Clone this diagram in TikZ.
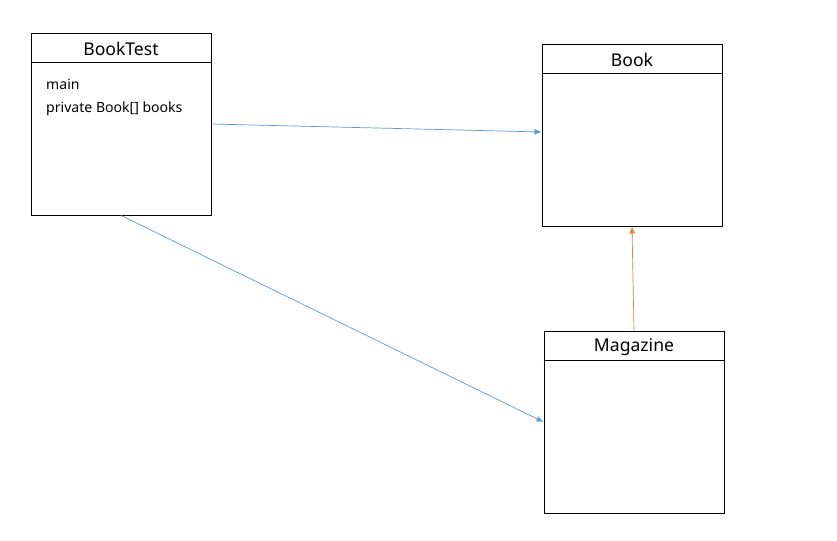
\documentclass[tikz,border=0pt]{standalone}
\usepackage{fontspec}
\setmainfont{Noto Sans}
\usetikzlibrary{arrows.meta}
\definecolor{linkblue}{RGB}{91,155,213}
\definecolor{linkorange}{RGB}{237,125,49}
\tikzset{
  classbox/.style={draw, line width=0.8pt, minimum width=5.4cm, minimum height=5.46cm, inner sep=0pt},
  classname/.style={font=\fontsize{15}{17}\selectfont},
  member/.style={anchor=west, inner sep=0pt, font=\fontsize{12}{14}\selectfont},
  assoc/.style={-{Latex[length=6pt,width=5pt]}, line width=0.6pt}
}
\begin{document}
\begin{tikzpicture}[x=0.03cm, y=-0.03cm]
        \useasboundingbox (0,0) rectangle (837,541);

        % class boxes
        \node[classbox] (booktest) at (121,124) {};
        \node[classbox] (book) at (632,135) {};
        \node[classbox] (magazine) at (634,422) {};

        % header lines
        \draw[line width=0.8pt] ([yshift=-0.9cm]booktest.north west) -- ([yshift=-0.9cm]booktest.north east);
        \draw[line width=0.8pt] ([yshift=-0.9cm]book.north west) -- ([yshift=-0.9cm]book.north east);
        \draw[line width=0.8pt] ([yshift=-0.9cm]magazine.north west) -- ([yshift=-0.9cm]magazine.north east);

        % class names
        \node[classname] (booktest-name) at ([yshift=-0.5cm]booktest.north) {BookTest};
        \node[classname] (book-name) at ([yshift=-0.5cm]book.north) {Book};
        \node[classname] (magazine-name) at ([yshift=-0.5cm]magazine.north) {Magazine};

        % members of BookTest
        \node[member] (booktest-main) at (46,84) {main};
        \node[member] (booktest-books) at (46,109) {private Book[] books};

        % relations
        \draw[assoc, linkblue] (booktest.east) -- ([yshift=0.09cm]book.west);
        \draw[assoc, linkblue] (booktest.south) -- (magazine.west);
        \draw[assoc, linkorange] (magazine.north) -- (book.south);

\end{tikzpicture}
\end{document}
